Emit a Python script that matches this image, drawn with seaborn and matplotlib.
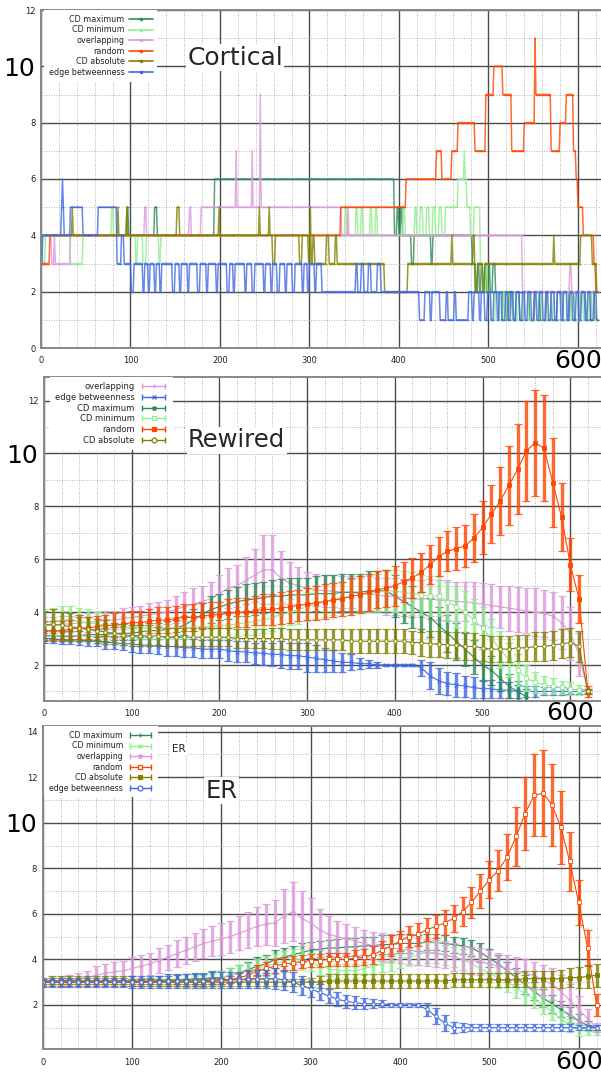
import numpy as np
import matplotlib
matplotlib.use("Agg")
import matplotlib.pyplot as plt
import seaborn as sns
from matplotlib.lines import Line2D
from matplotlib.legend_handler import HandlerLine2D
from matplotlib.ticker import MultipleLocator
from matplotlib.transforms import ScaledTranslation

sns.set_style("white")
plt.rcParams["font.family"] = ["DejaVu Sans"]

COLORS = {
    "CD maximum": "#2e8b57",
    "CD minimum": "#90ee90",
    "overlapping": "#dd99dd",
    "random": "#ff4500",
    "CD absolute": "#808000",
    "edge betweenness": "#4169e1",
}

# ---------------- Cortical: integer community counts (change points) ----------------
cort_end = 622
cort_cdmax = [(0, 4), (96, 5), (98, 4), (127, 5), (130, 4), (194, 6), (395, 4), (398, 5), (400, 4),
              (402, 5), (404, 4), (414, 3), (417, 4), (436, 3), (438, 4), (482, 3), (486, 2), (488, 3),
              (490, 2), (492, 3), (494, 2), (496, 3), (498, 2), (500, 3), (502, 2), (505, 3), (508, 2),
              (512, 1), (516, 2), (520, 1), (523, 2), (527, 1), (531, 2), (535, 1), (540, 2), (546, 1),
              (552, 2), (558, 1), (565, 2), (571, 1), (577, 2), (583, 1), (590, 2), (596, 1), (603, 2),
              (609, 1), (615, 2), (619, 1)]
cort_cdmin = [(0, 4), (2, 3), (5, 4), (33, 3), (47, 4), (79, 5), (81, 4), (106, 3), (108, 4), (114, 3),
              (118, 4), (132, 3), (134, 4), (340, 5), (342, 4), (352, 5), (354, 4), (358, 5), (360, 4),
              (368, 5), (370, 4), (374, 5), (376, 4), (405, 5), (407, 4), (418, 5), (420, 4), (424, 5),
              (427, 4), (431, 5), (434, 4), (438, 5), (441, 4), (445, 5), (448, 4), (452, 5), (466, 6),
              (473, 7), (474, 6), (476, 5), (480, 4), (484, 5), (491, 3), (494, 2), (497, 3), (499, 2),
              (503, 1), (508, 2), (512, 1), (517, 2), (521, 1), (528, 2), (532, 1), (540, 2), (545, 1),
              (556, 2), (560, 1), (570, 2), (574, 1), (588, 2), (592, 1), (603, 2), (606, 1), (612, 2),
              (616, 1)]
cort_overlap = [(0, 4), (12, 3), (15, 4), (16, 3), (33, 4), (116, 5), (118, 4), (166, 5), (168, 4),
                (179, 5), (218, 7), (219, 5), (236, 7), (237, 5), (245, 9), (246, 5), (336, 4), (343, 5),
                (344, 4), (538, 2), (591, 3), (593, 2)]
cort_random = [(0, 3), (10, 4), (335, 5), (408, 6), (442, 7), (448, 6), (459, 7), (466, 8), (485, 7),
               (497, 9), (506, 10), (516, 9), (526, 7), (540, 8), (552, 11), (553, 9), (570, 7), (580, 8),
               (587, 9), (595, 7), (598, 6), (600, 5), (606, 4), (618, 3), (620, 2)]
cort_cdabs = [(0, 4), (35, 5), (36, 4), (86, 5), (87, 4), (96, 5), (97, 4), (152, 5), (155, 4), (199, 5),
              (200, 4), (244, 5), (245, 4), (255, 5), (256, 4), (259, 3), (262, 4), (289, 3), (292, 4),
              (299, 3), (301, 5), (302, 3), (304, 4), (306, 3), (319, 4), (322, 3), (329, 4), (331, 3),
              (384, 2), (410, 3), (459, 4), (460, 3), (483, 4), (485, 2), (488, 3), (494, 2), (496, 3),
              (573, 4), (574, 3), (603, 4), (616, 3), (621, 2)]
cort_edge = [(0, 3), (2, 4), (23, 5), (24, 6), (25, 5), (26, 4), (33, 5), (47, 4), (64, 5), (85, 3),
             (90, 4), (93, 3), (101, 2), (104, 3), (114, 2), (116, 3), (120, 2), (122, 3), (127, 2),
             (129, 3), (133, 2), (135, 3), (147, 2), (150, 3), (155, 2), (157, 3), (164, 2), (166, 3),
             (175, 2), (178, 3), (185, 2), (187, 3), (196, 2), (198, 3), (208, 2), (211, 3), (215, 2),
             (217, 3), (228, 2), (230, 3), (236, 2), (239, 3), (249, 2), (251, 3), (257, 2), (259, 3),
             (264, 2), (267, 3), (273, 2), (275, 3), (281, 2), (284, 3), (292, 2), (294, 3), (298, 2),
             (300, 3), (306, 2), (308, 3), (314, 2), (352, 3), (354, 2), (358, 3), (361, 2), (366, 3),
             (369, 2), (376, 3), (380, 2), (423, 1), (429, 2), (435, 1), (437, 2), (446, 1), (453, 2),
             (455, 1), (462, 2), (464, 1), (478, 2), (482, 1), (484, 2), (490, 1), (492, 2), (496, 1),
             (499, 2), (503, 1), (506, 2), (510, 1), (512, 2), (515, 1), (519, 2), (522, 1), (525, 2),
             (528, 1), (531, 2), (535, 1), (538, 2), (541, 1), (544, 2), (548, 1), (551, 2), (554, 1),
             (557, 2), (561, 1), (564, 2), (567, 1), (570, 2), (574, 1), (577, 2), (581, 1), (584, 2),
             (588, 1), (591, 2), (594, 1), (598, 2), (601, 1), (604, 2), (608, 1), (611, 2), (614, 1),
             (618, 2), (621, 1)]

# ---------------- Rewired / ER: mean and spread sampled every 10 steps ----------------
x_err = np.arange(0, 621, 10)
nan = np.nan

rw_random = [3.3, 3.3, 3.3, 3.35, 3.4, 3.4, 3.45, 3.5, 3.5, 3.55,
             3.6, 3.6, 3.65, 3.7, 3.7, 3.75, 3.8, 3.8, 3.85, 3.9,
             3.9, 3.95, 4.0, 4.0, 4.05, 4.1, 4.1, 4.15, 4.2, 4.25,
             4.3, 4.35, 4.4, 4.45, 4.5, 4.6, 4.65, 4.75, 4.85, 4.9,
             5.0, 5.15, 5.3, 5.5, 5.8, 6.1, 6.3, 6.4, 6.5, 6.8,
             7.2, 7.7, 8.2, 8.8, 9.4, 10.1, 10.4, 10.2, 8.9, 7.6,
             5.8, 4.5, 1.0]
rw_random_err = [0.35, 0.35, 0.35, 0.35, 0.4, 0.4, 0.4, 0.4, 0.45, 0.45,
                 0.45, 0.45, 0.45, 0.5, 0.5, 0.5, 0.5, 0.5, 0.5, 0.5,
                 0.5, 0.55, 0.55, 0.55, 0.55, 0.6, 0.6, 0.6, 0.6, 0.6,
                 0.6, 0.65, 0.65, 0.65, 0.65, 0.7, 0.7, 0.7, 0.7, 0.7,
                 0.75, 0.75, 0.75, 0.75, 0.75, 0.75, 0.75, 0.8, 0.8, 0.9,
                 1.0, 1.1, 1.3, 1.5, 1.7, 1.9, 2.0, 2.0, 1.7, 1.3,
                 1.0, 0.9, 0.2]
rw_overlap = [3.5, 3.5, 3.55, 3.55, 3.6, 3.6, 3.65, 3.7, 3.7, 3.75,
              3.8, 3.85, 3.9, 3.95, 4.0, 4.1, 4.2, 4.3, 4.4, 4.5,
              4.7, 4.9, 5.0, 5.2, 5.4, 5.6, 5.6, 5.3, 5.1, 5.0,
              4.9, 4.85, 4.8, 4.8, 4.75, 4.75, 4.7, 4.7, 4.65, 4.6,
              4.6, 4.55, 4.5, 4.5, 4.5, 4.45, 4.45, 4.4, 4.4, 4.35,
              4.3, 4.25, 4.2, 4.15, 4.1, 4.05, 4.0, 3.95, 3.85, 3.6,
              3.2, 2.4, 1.0]
rw_overlap_err = [0.3, 0.3, 0.3, 0.3, 0.3, 0.35, 0.35, 0.35, 0.35, 0.4,
                  0.4, 0.4, 0.45, 0.45, 0.45, 0.5, 0.55, 0.6, 0.6, 0.65,
                  0.7, 0.75, 0.8, 0.9, 1.0, 1.3, 1.3, 1.0, 0.8, 0.7,
                  0.6, 0.6, 0.6, 0.6, 0.6, 0.6, 0.65, 0.65, 0.65, 0.7,
                  0.7, 0.7, 0.7, 0.7, 0.75, 0.75, 0.75, 0.75, 0.75, 0.8,
                  0.8, 0.8, 0.8, 0.85, 0.85, 0.85, 0.9, 0.9, 0.9, 1.0,
                  1.0, 0.8, 0.1]
rw_cdmax = [3.1, 3.1, 3.1, 3.1, 3.1, 3.15, 3.15, 3.15, 3.2, 3.2,
            3.2, 3.25, 3.3, 3.3, 3.35, 3.4, 3.5, 3.7, 3.9, 4.1,
            4.2, 4.3, 4.4, 4.45, 4.5, 4.55, 4.6, 4.6, 4.65, 4.65,
            4.65, 4.7, 4.7, 4.7, 4.75, 4.75, 4.75, 4.8, 4.8, 4.8,
            4.6, 4.4, 4.2, 4.0, 3.8, 3.5, 3.2, 2.9, 2.6, 2.3,
            2.0, 1.8, 1.5, 1.2, 1.0, 0.8, nan, nan, nan, nan,
            nan, nan, nan]
rw_cdmax_err = [0.2, 0.2, 0.2, 0.2, 0.2, 0.2, 0.2, 0.25, 0.25, 0.25,
                0.25, 0.25, 0.3, 0.3, 0.3, 0.3, 0.35, 0.4, 0.45, 0.5,
                0.5, 0.55, 0.55, 0.6, 0.6, 0.6, 0.6, 0.65, 0.65, 0.65,
                0.65, 0.65, 0.7, 0.7, 0.7, 0.7, 0.7, 0.75, 0.75, 0.8,
                0.8, 0.8, 0.8, 0.75, 0.75, 0.7, 0.7, 0.7, 0.65, 0.65,
                0.6, 0.55, 0.5, 0.45, 0.4, 0.3, nan, nan, nan, nan,
                nan, nan, nan]
rw_cdmin = [3.6, 3.65, 3.7, 3.7, 3.65, 3.6, 3.55, 3.5, 3.5, 3.45,
            3.4, 3.4, 3.4, 3.4, 3.4, 3.4, 3.4, 3.45, 3.45, 3.45,
            3.5, 3.5, 3.55, 3.6, 3.65, 3.7, 3.8, 3.9, 4.0, 4.1,
            4.2, 4.3, 4.4, 4.5, 4.55, 4.6, 4.65, 4.7, 4.75, 4.8,
            4.8, 4.75, 4.7, 4.65, 4.6, 4.6, 4.4, 4.2, 4.0, 3.7,
            3.4, 3.0, 2.6, 2.2, 1.8, 1.5, 1.35, 1.25, 1.2, 1.15,
            1.1, 1.05, 1.0]
rw_cdmin_err = [0.5, 0.5, 0.55, 0.55, 0.5, 0.5, 0.45, 0.45, 0.45, 0.4,
                0.4, 0.4, 0.4, 0.4, 0.4, 0.4, 0.4, 0.4, 0.4, 0.45,
                0.45, 0.45, 0.45, 0.45, 0.5, 0.5, 0.5, 0.5, 0.5, 0.55,
                0.55, 0.55, 0.6, 0.6, 0.6, 0.65, 0.65, 0.7, 0.7, 0.75,
                0.8, 0.8, 0.8, 0.75, 0.75, 0.75, 0.75, 0.8, 0.8, 0.8,
                0.8, 0.75, 0.7, 0.65, 0.6, 0.5, 0.4, 0.35, 0.3, 0.25,
                0.25, 0.2, 0.1]
rw_cdabs = [3.5, 3.55, 3.5, 3.45, 3.4, 3.35, 3.3, 3.25, 3.2, 3.15,
            3.1, 3.1, 3.1, 3.1, 3.05, 3.05, 3.05, 3.05, 3.05, 3.05,
            3.05, 3.05, 3.0, 3.0, 3.0, 3.0, 3.0, 3.0, 2.95, 2.95,
            2.95, 2.95, 2.95, 2.95, 2.95, 2.9, 2.9, 2.9, 2.9, 2.9,
            2.9, 2.9, 2.85, 2.85, 2.8, 2.8, 2.75, 2.75, 2.7, 2.7,
            2.65, 2.6, 2.6, 2.6, 2.65, 2.65, 2.7, 2.7, 2.75, 2.8,
            2.85, 2.7, 1.0]
rw_cdabs_err = [0.55, 0.55, 0.5, 0.5, 0.5, 0.45, 0.45, 0.45, 0.4, 0.4,
                0.4, 0.4, 0.4, 0.35, 0.35, 0.35, 0.35, 0.35, 0.35, 0.35,
                0.35, 0.35, 0.35, 0.35, 0.35, 0.35, 0.4, 0.4, 0.4, 0.4,
                0.4, 0.4, 0.4, 0.4, 0.4, 0.45, 0.45, 0.45, 0.45, 0.45,
                0.45, 0.45, 0.45, 0.5, 0.5, 0.5, 0.5, 0.5, 0.5, 0.5,
                0.5, 0.5, 0.5, 0.5, 0.5, 0.5, 0.55, 0.55, 0.55, 0.55,
                0.55, 0.6, 0.1]
rw_edge = [3.0, 3.0, 2.95, 2.95, 2.95, 2.9, 2.9, 2.85, 2.85, 2.8,
           2.8, 2.75, 2.75, 2.7, 2.7, 2.7, 2.65, 2.65, 2.6, 2.6,
           2.6, 2.55, 2.5, 2.5, 2.45, 2.45, 2.4, 2.4, 2.35, 2.35,
           2.3, 2.25, 2.2, 2.15, 2.1, 2.1, 2.05, 2.05, 2.0, 2.0,
           2.0, 2.0, 2.0, 1.9, 1.6, 1.4, 1.3, 1.25, 1.2, 1.15,
           1.1, 1.1, 1.05, 1.05, 1.0, 1.0, 1.0, 1.0, 1.0, 1.0,
           1.0, 1.0, 1.0]
rw_edge_err = [0.15, 0.15, 0.15, 0.15, 0.2, 0.2, 0.2, 0.25, 0.25, 0.25,
               0.3, 0.3, 0.3, 0.3, 0.35, 0.35, 0.35, 0.35, 0.35, 0.35,
               0.35, 0.4, 0.4, 0.4, 0.4, 0.45, 0.45, 0.5, 0.5, 0.5,
               0.55, 0.5, 0.45, 0.4, 0.35, 0.3, 0.2, 0.15, 0.1, 0.05,
               0.05, 0.05, 0.05, 0.3, 0.5, 0.5, 0.45, 0.45, 0.4, 0.4,
               0.35, 0.35, 0.3, 0.3, 0.25, 0.2, 0.2, 0.15, 0.15, 0.15,
               0.1, 0.1, 0.05]

er_cdmax = [3.0, 3.0, 3.0, 3.0, 3.0, 3.0, 3.0, 3.0, 3.0, 3.0,
            3.0, 3.0, 3.05, 3.05, 3.05, 3.1, 3.1, 3.15, 3.15, 3.2,
            3.2, 3.3, 3.4, 3.55, 3.7, 3.8, 4.0, 4.1, 4.2, 4.3,
            4.4, 4.45, 4.5, 4.5, 4.55, 4.55, 4.6, 4.6, 4.65, 4.65,
            4.7, 4.7, 4.7, 4.75, 4.75, 4.7, 4.65, 4.6, 4.5, 4.3,
            4.05, 3.8, 3.5, 3.2, 2.9, 2.6, 2.3, 2.05, 1.8, 1.55,
            1.3, 1.1, 1.0]
er_cdmax_err = [0.1, 0.1, 0.1, 0.1, 0.1, 0.1, 0.1, 0.1, 0.1, 0.1,
                0.15, 0.15, 0.15, 0.2, 0.2, 0.2, 0.25, 0.25, 0.25, 0.3,
                0.3, 0.3, 0.35, 0.35, 0.4, 0.4, 0.4, 0.4, 0.4, 0.4,
                0.35, 0.35, 0.35, 0.4, 0.4, 0.4, 0.4, 0.4, 0.4, 0.4,
                0.4, 0.4, 0.35, 0.35, 0.35, 0.35, 0.35, 0.35, 0.35, 0.4,
                0.4, 0.4, 0.4, 0.4, 0.4, 0.4, 0.4, 0.4, 0.35, 0.35,
                0.3, 0.2, 0.1]
er_cdmin = [3.0, 3.0, 3.0, 3.0, 3.0, 3.0, 3.0, 3.0, 3.0, 3.0,
            3.0, 3.0, 3.0, 3.0, 3.0, 3.0, 3.0, 3.05, 3.05, 3.1,
            3.2, 3.3, 3.4, 3.5, 3.6, 3.7, 3.8, 3.9, 4.0, 4.0,
            3.9, 3.7, 3.6, 3.5, 3.5, 3.5, 3.6, 3.7, 3.8, 3.9,
            4.0, 4.1, 4.2, 4.3, 4.3, 4.2, 4.1, 4.0, 3.8, 3.6,
            3.4, 3.2, 3.0, 2.75, 2.5, 2.25, 2.0, 1.7, 1.4, 1.1,
            0.9, 0.85, 0.8]
er_cdmin_err = [0.1, 0.1, 0.1, 0.1, 0.1, 0.1, 0.1, 0.1, 0.1, 0.1,
                0.1, 0.1, 0.15, 0.15, 0.15, 0.15, 0.2, 0.2, 0.25, 0.25,
                0.3, 0.3, 0.35, 0.35, 0.4, 0.45, 0.45, 0.45, 0.45, 0.45,
                0.4, 0.4, 0.35, 0.3, 0.3, 0.3, 0.3, 0.35, 0.35, 0.4,
                0.4, 0.4, 0.45, 0.45, 0.45, 0.45, 0.45, 0.45, 0.45, 0.45,
                0.45, 0.45, 0.45, 0.45, 0.45, 0.4, 0.4, 0.35, 0.35, 0.3,
                0.25, 0.15, 0.1]
er_overlap = [3.0, 3.0, 3.05, 3.1, 3.15, 3.2, 3.3, 3.4, 3.45, 3.5,
              3.6, 3.7, 3.8, 3.95, 4.1, 4.25, 4.4, 4.55, 4.7, 4.8,
              4.9, 5.0, 5.15, 5.3, 5.45, 5.55, 5.6, 5.9, 6.1, 5.8,
              5.6, 5.3, 5.1, 5.0, 4.9, 4.8, 4.7, 4.6, 4.55, 4.5,
              4.45, 4.4, 4.35, 4.3, 4.25, 4.2, 4.1, 4.0, 3.95, 3.9,
              3.8, 3.7, 3.6, 3.5, 3.4, 3.3, 3.1, 2.9, 2.6, 2.2,
              1.8, 1.4, 1.0]
er_overlap_err = [0.1, 0.1, 0.15, 0.2, 0.25, 0.3, 0.4, 0.4, 0.45, 0.45,
                  0.5, 0.5, 0.5, 0.55, 0.55, 0.6, 0.6, 0.6, 0.65, 0.65,
                  0.7, 0.7, 0.75, 0.8, 0.85, 0.9, 1.0, 1.2, 1.3, 1.2,
                  1.1, 0.9, 0.8, 0.7, 0.65, 0.6, 0.6, 0.6, 0.6, 0.6,
                  0.6, 0.6, 0.6, 0.6, 0.6, 0.6, 0.6, 0.6, 0.6, 0.6,
                  0.6, 0.6, 0.6, 0.6, 0.6, 0.6, 0.65, 0.7, 0.7, 0.7,
                  0.6, 0.4, 0.2]
er_random = [3.0, 3.0, 3.0, 3.0, 3.0, 3.0, 3.0, 3.0, 3.0, 3.0,
             3.0, 3.0, 3.0, 3.0, 3.0, 3.0, 3.0, 3.0, 3.0, 3.05,
             3.05, 3.1, 3.2, 3.3, 3.5, 3.6, 3.7, 3.8, 3.85, 3.9,
             3.95, 3.95, 4.0, 4.0, 4.0, 4.05, 4.1, 4.2, 4.4, 4.6,
             4.8, 5.0, 5.1, 5.3, 5.45, 5.6, 5.8, 6.1, 6.5, 7.0,
             7.5, 7.9, 8.5, 9.4, 10.4, 11.2, 11.3, 10.8, 9.8, 8.3,
             6.5, 4.5, 2.0]
er_random_err = [0.1, 0.1, 0.1, 0.1, 0.1, 0.1, 0.1, 0.1, 0.1, 0.1,
                 0.1, 0.1, 0.1, 0.1, 0.1, 0.1, 0.1, 0.1, 0.15, 0.15,
                 0.15, 0.15, 0.2, 0.2, 0.25, 0.3, 0.3, 0.3, 0.3, 0.3,
                 0.3, 0.3, 0.3, 0.3, 0.3, 0.35, 0.35, 0.4, 0.4, 0.45,
                 0.45, 0.45, 0.5, 0.5, 0.5, 0.55, 0.6, 0.65, 0.7, 0.75,
                 0.8, 0.9, 1.0, 1.3, 1.6, 1.8, 1.9, 1.8, 1.6, 1.3,
                 1.0, 0.8, 0.5]
er_cdabs = [3.0, 3.05, 3.05, 3.05, 3.05, 3.05, 3.05, 3.05, 3.05, 3.05,
            3.05, 3.0, 3.0, 3.0, 3.0, 3.0, 3.0, 3.0, 3.0, 3.0,
            3.0, 3.0, 3.0, 3.0, 3.0, 3.0, 3.0, 3.0, 3.0, 3.0,
            3.0, 3.0, 3.05, 3.05, 3.05, 3.05, 3.05, 3.05, 3.05, 3.05,
            3.05, 3.05, 3.05, 3.05, 3.05, 3.05, 3.1, 3.1, 3.1, 3.1,
            3.1, 3.1, 3.1, 3.1, 3.15, 3.15, 3.15, 3.15, 3.15, 3.2,
            3.2, 3.25, 3.3]
er_cdabs_err = [0.15, 0.2, 0.2, 0.2, 0.2, 0.2, 0.2, 0.2, 0.2, 0.2,
                0.2, 0.15, 0.15, 0.15, 0.15, 0.15, 0.15, 0.15, 0.15, 0.15,
                0.15, 0.15, 0.15, 0.15, 0.15, 0.15, 0.15, 0.15, 0.15, 0.15,
                0.2, 0.25, 0.3, 0.3, 0.3, 0.3, 0.3, 0.3, 0.3, 0.3,
                0.3, 0.3, 0.3, 0.3, 0.3, 0.3, 0.3, 0.3, 0.3, 0.3,
                0.3, 0.3, 0.3, 0.3, 0.35, 0.35, 0.35, 0.35, 0.4, 0.4,
                0.45, 0.5, 0.5]
er_edge = [3.0, 3.0, 3.0, 3.0, 3.0, 3.0, 3.0, 3.0, 3.0, 3.0,
           3.0, 3.0, 3.0, 3.0, 3.05, 3.05, 3.05, 3.05, 3.05, 3.1,
           3.1, 3.1, 3.1, 3.15, 3.15, 3.15, 3.15, 3.1, 3.0, 2.85,
           2.7, 2.55, 2.4, 2.25, 2.15, 2.1, 2.05, 2.05, 2.05, 2.0,
           2.0, 2.0, 2.0, 1.8, 1.5, 1.2, 1.0, 1.0, 1.0, 1.0,
           1.0, 1.0, 1.0, 1.0, 1.0, 1.0, 1.0, 1.0, 1.0, 1.0,
           1.0, 1.0, 1.0]
er_edge_err = [0.2, 0.2, 0.2, 0.2, 0.2, 0.2, 0.2, 0.2, 0.2, 0.2,
               0.25, 0.25, 0.25, 0.25, 0.3, 0.3, 0.3, 0.3, 0.3, 0.35,
               0.35, 0.35, 0.35, 0.4, 0.4, 0.4, 0.45, 0.45, 0.45, 0.4,
               0.35, 0.35, 0.3, 0.3, 0.3, 0.3, 0.25, 0.2, 0.15, 0.1,
               0.1, 0.1, 0.1, 0.3, 0.35, 0.35, 0.25, 0.2, 0.15, 0.15,
               0.15, 0.15, 0.15, 0.15, 0.15, 0.15, 0.15, 0.15, 0.15, 0.15,
               0.1, 0.1, 0.1]

x_ticks = [0, 100, 200, 300, 400, 500, 600]


def expand_steps(points, end):
    xs = np.array([p[0] for p in points])
    vs = np.array([p[1] for p in points], dtype=float)
    grid = np.arange(0, end + 1)
    idx = np.searchsorted(xs, grid, side="right") - 1
    return grid, vs[idx]


fig = plt.figure(figsize=(6.01, 10.75), dpi=100)
H = 1075.0
W = 601.0


def style_axes(ax, xmax, ylim, yticks):
    ax.set_xlim(0, xmax)
    ax.set_ylim(*ylim)
    ax.xaxis.set_minor_locator(MultipleLocator(20))
    ax.yaxis.set_minor_locator(MultipleLocator(1))
    ax.set_xticks(x_ticks, labels=[str(t) for t in x_ticks])
    ax.set_yticks(yticks, labels=[str(t) for t in yticks])
    ax.grid(which="major", color="#4d4d4d", lw=1.0, ls="-")
    ax.grid(which="minor", color="#9a9a9a", lw=0.6, ls=(0, (1, 2)))
    ax.set_axisbelow(True)
    ax.tick_params(which="both", direction="in", color="#555555", width=0.8,
                   labelsize=6, labelcolor="#222222")
    ax.tick_params(which="major", length=3)
    ax.tick_params(which="minor", length=2)
    ax.tick_params(axis="y", pad=4)
    ax.tick_params(axis="x", pad=6)
    for side in ("left", "bottom", "top"):
        ax.spines[side].set_color("#888888")
        ax.spines[side].set_linewidth(1.4)
    ax.spines["right"].set_visible(False)
    for lab in ax.get_yticklabels():
        if lab.get_text() == "10":
            lab.set_fontsize(18)
            lab.set_color("black")
    for lab in ax.get_xticklabels():
        if lab.get_text() == "600":
            lab.set_fontsize(18)
            lab.set_color("black")
            lab.set_va("center")
            lab.set_transform(lab.get_transform() + ScaledTranslation(0, -3 / 72, fig.dpi_scale_trans))
    ax.set_xlabel("")
    ax.set_ylabel("")


def add_legend(ax, names, markers=None, filled=None, fontsize=5.8, handlelength=3.0,
               anchor=(0.005, 1.0)):
    handles, hmap = [], {}
    for i, name in enumerate(names):
        c = COLORS[name]
        if markers is None:
            handles.append(Line2D([], [], color=c, lw=1.2, marker=".", ms=3))
        else:
            cap = Line2D([], [], color=c, lw=1.0, marker="|", ms=5, mew=1.0)
            hmap[cap] = HandlerLine2D(numpoints=2)
            mid = Line2D([], [], color=c, lw=0, marker=markers[i], ms=3.5, mew=0.9,
                         mfc=c if filled[i] else "white")
            handles.append((cap, mid))
    leg = ax.legend(handles, names, handler_map=hmap, loc="upper left", bbox_to_anchor=anchor,
                    markerfirst=False, frameon=True, fancybox=False, framealpha=1.0,
                    facecolor="white", edgecolor="none", fontsize=fontsize,
                    handlelength=handlelength, handletextpad=0.6, labelspacing=0.2,
                    borderpad=0.6, borderaxespad=0.0)
    for t in leg.get_texts():
        t.set_color("#222222")
    leg.set_zorder(20)


def draw_errorbar_series(ax, name, mean, err, marker, filled):
    c = COLORS[name]
    mean = np.asarray(mean, dtype=float)
    err = np.asarray(err, dtype=float)
    ok = ~np.isnan(mean)
    ax.errorbar(x_err[ok], mean[ok], yerr=err[ok], fmt="none", ecolor=c, elinewidth=2.4,
                capsize=3.0, capthick=0.9, alpha=0.8)
    sns.lineplot(x=x_err[ok], y=mean[ok], ax=ax, color=c, lw=0.8, marker=marker, ms=2.5,
                 mec=c, mfc=c if filled else "white", mew=0.6, estimator=None, sort=False)


def make_axes(left_px, top_px, bottom_px):
    return fig.add_axes([left_px / W, 1 - bottom_px / H, 1 - left_px / W, (bottom_px - top_px) / H])


# ---- Cortical ----
ax1 = make_axes(41, 10, 348)
cort_series = [("CD maximum", cort_cdmax), ("CD minimum", cort_cdmin), ("overlapping", cort_overlap),
               ("random", cort_random), ("CD absolute", cort_cdabs), ("edge betweenness", cort_edge)]
for name, pts in cort_series:
    gx, gy = expand_steps(pts, cort_end)
    sns.lineplot(x=gx, y=gy, ax=ax1, color=COLORS[name], lw=1.1, alpha=0.8, marker=".", ms=2.2,
                 mew=0, estimator=None, sort=False)
style_axes(ax1, 625.7, (0, 12), [0, 2, 4, 6, 8, 10, 12])
add_legend(ax1, [n for n, _ in cort_series], handlelength=2.9)
ax1.text(216.8, 10.05, "Cortical", fontsize=18, ha="center", va="baseline", zorder=15,
         bbox=dict(facecolor="white", edgecolor="none", pad=1))

# ---- Rewired ----
ax2 = make_axes(44, 377.3, 700.7)
rw_series = [("overlapping", rw_overlap, rw_overlap_err, "+", True),
             ("edge betweenness", rw_edge, rw_edge_err, "x", True),
             ("CD maximum", rw_cdmax, rw_cdmax_err, "*", True),
             ("CD minimum", rw_cdmin, rw_cdmin_err, "s", False),
             ("random", rw_random, rw_random_err, "s", True),
             ("CD absolute", rw_cdabs, rw_cdabs_err, "o", False)]
for name, m, e, mk, fl in rw_series:
    draw_errorbar_series(ax2, name, m, e, mk, fl)
style_axes(ax2, 635.0, (0.65, 12.88), [2, 4, 6, 8, 10, 12])
add_legend(ax2, [s[0] for s in rw_series], markers=[s[3] for s in rw_series],
           filled=[s[4] for s in rw_series], fontsize=6.0, handlelength=3.4, anchor=(0.01, 1.0))
ax2.text(219.7, 10.23, "Rewired", fontsize=17.5, ha="center", va="baseline", zorder=15,
         bbox=dict(facecolor="white", edgecolor="none", pad=1))

# ---- ER ----
ax3 = make_axes(42.7, 726, 1049.3)
er_series = [("CD maximum", er_cdmax, er_cdmax_err, "+", True),
             ("CD minimum", er_cdmin, er_cdmin_err, "x", True),
             ("overlapping", er_overlap, er_overlap_err, "*", True),
             ("random", er_random, er_random_err, "s", False),
             ("CD absolute", er_cdabs, er_cdabs_err, "s", True),
             ("edge betweenness", er_edge, er_edge_err, "o", False)]
for name, m, e, mk, fl in er_series:
    draw_errorbar_series(ax3, name, m, e, mk, fl)
style_axes(ax3, 625.0, (0.05, 14.25), [2, 4, 6, 8, 10, 12, 14])
add_legend(ax3, [s[0] for s in er_series], markers=[s[3] for s in er_series],
           filled=[s[4] for s in er_series], fontsize=5.7, handlelength=3.2, anchor=(0.003, 1.0))
ax3.text(152.6, 13.11, "ER", fontsize=7.5, ha="center", va="baseline", zorder=15,
         bbox=dict(facecolor="white", edgecolor="none", pad=1))
ax3.text(200.2, 11.09, "ER", fontsize=17.5, ha="center", va="baseline", zorder=15,
         bbox=dict(facecolor="white", edgecolor="none", pad=1))

fig.savefig("out.png", dpi=100, facecolor="white")
